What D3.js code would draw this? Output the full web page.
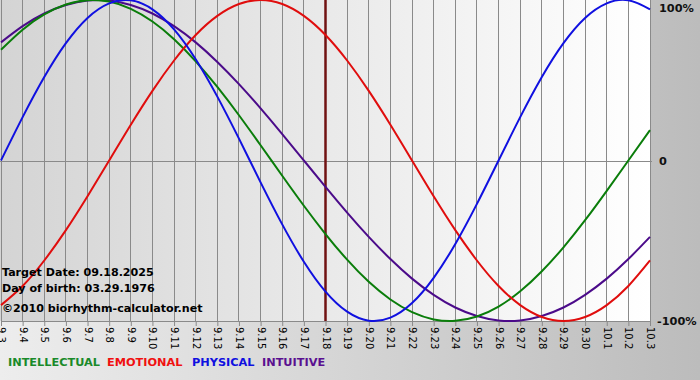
<!DOCTYPE html>
<html><head><meta charset="utf-8">
<script src="https://cdn.jsdelivr.net/npm/d3@7"></script>
<style>body{margin:0;padding:0;overflow:hidden;background:#fff}svg{display:block}</style>
</head><body>
<script>
// Day labels (Sep 3 .. Oct 3)
const days = ["9.3","9.4","9.5","9.6","9.7","9.8","9.9","9.10","9.11","9.12","9.13","9.14","9.15","9.16","9.17","9.18","9.19","9.20","9.21","9.22","9.23","9.24","9.25","9.26","9.27","9.28","9.29","9.30","10.1","10.2","10.3"];
const intellectual = [0.69,0.815,0.91,0.972,0.999,0.99,0.945,0.866,0.756,0.618,0.458,0.282,0.095,-0.095,-0.282,-0.458,-0.618,-0.756,-0.866,-0.945,-0.99,-0.999,-0.972,-0.91,-0.815,-0.69,-0.541,-0.372,-0.189,0,0.189];
const emotional = [-0.901,-0.782,-0.623,-0.434,-0.223,0,0.223,0.434,0.623,0.782,0.901,0.975,1,0.975,0.901,0.782,0.623,0.434,0.223,0,-0.223,-0.434,-0.623,-0.782,-0.901,-0.975,-1,-0.975,-0.901,-0.782,-0.623];
const physical = [0,0.27,0.52,0.731,0.888,0.979,0.998,0.942,0.817,0.631,0.398,0.136,-0.136,-0.398,-0.631,-0.817,-0.942,-0.998,-0.979,-0.888,-0.731,-0.52,-0.27,0,0.27,0.52,0.731,0.888,0.979,0.998,0.942];
const intuitive = [0.736,0.837,0.916,0.969,0.997,0.997,0.969,0.916,0.837,0.736,0.614,0.476,0.325,0.165,0,-0.165,-0.325,-0.476,-0.614,-0.736,-0.837,-0.916,-0.969,-0.997,-0.997,-0.969,-0.916,-0.837,-0.736,-0.614,-0.476];
const seriesNames = ["INTELLECTUAL","EMOTIONAL","PHYSICAL","INTUITIVE"];
const lineColors = ["#0a7d0a","#e00d0d","#1010e0","#4b0b8a"];
const legendColors = ["#1a8a2a","#f01010","#1010e0","#5a1090"];
const yTickVals = [1,0,-1];
const yTickLabels = ["100%","0","-100%"];
const targetDay = "9.18";
const infoLines = ["Target Date: 09.18.2025","Day of birth: 03.29.1976","\u00A92010 biorhythm-calculator.net"];

const W=700,H=380;
const svg=d3.select("body").append("svg").attr("width",W).attr("height",H);
const defs=svg.append("defs");
const g1=defs.append("linearGradient").attr("id","bg").attr("x1","0").attr("x2","1").attr("y1","0").attr("y2","0");
g1.append("stop").attr("offset","0").attr("stop-color","#ededed");
g1.append("stop").attr("offset","1").attr("stop-color","#bcbcbc");
const g2=defs.append("linearGradient").attr("id","plotbg").attr("x1","0").attr("x2","1").attr("y1","0").attr("y2","0");
g2.append("stop").attr("offset","0").attr("stop-color","#d4d4d4");
g2.append("stop").attr("offset","1").attr("stop-color","#ffffff");

svg.append("rect").attr("width",W).attr("height",H).attr("fill","url(#bg)");

const x=d3.scalePoint().domain(days).range([1,650]);
const y=d3.scaleLinear().domain([-1,1]).range([321,0]);

svg.append("rect").attr("x",0).attr("y",0).attr("width",650).attr("height",321).attr("fill","url(#plotbg)");

// vertical gridlines
svg.append("g").selectAll("line").data(days).join("line")
  .attr("x1",d=>x(d)).attr("x2",d=>x(d)).attr("y1",0).attr("y2",321)
  .attr("stroke","#8a8a8a").attr("stroke-width",1).attr("shape-rendering","crispEdges");
// zero line
svg.append("line").attr("x1",0).attr("x2",652).attr("y1",Math.round(y(0))).attr("y2",Math.round(y(0)))
  .attr("stroke","#8a8a8a").attr("shape-rendering","crispEdges");

// x axis
const xa=svg.append("g").attr("transform","translate(0,321)")
  .call(d3.axisBottom(x).tickSize(5).tickSizeOuter(0));
xa.select(".domain").attr("stroke","#8a8a8a");
xa.selectAll(".tick line").attr("stroke","#8a8a8a");
xa.selectAll("text").attr("transform","rotate(90)").attr("x",6).attr("y",0).attr("dy","0.35em")
  .attr("text-anchor","start").attr("font-family","DejaVu Sans, Verdana, sans-serif").attr("font-size",10).attr("fill","#000");

// y labels (right)
svg.append("g").selectAll("text").data(yTickVals).join("text")
  .attr("x",(d,i)=> i===2?657:659).attr("y",d=>Math.min(Math.max(y(d),8),322)).attr("dy","0.38em")
  .attr("font-family","DejaVu Sans, Verdana, sans-serif").attr("font-weight","bold").attr("font-size",11.3)
  .attr("fill","#111").text((d,i)=>yTickLabels[i]);

// target line
svg.append("line").attr("x1",x(targetDay)).attr("x2",x(targetDay)).attr("y1",0).attr("y2",321)
  .attr("stroke","#701212").attr("stroke-width",2.5);

// curves
const line=d3.line().x((d,i)=>x(days[i])).y(d=>y(d)).curve(d3.curveNatural);
const allSeries=[intuitive,intellectual,emotional,physical];
const allColors=[lineColors[3],lineColors[0],lineColors[1],lineColors[2]];
svg.append("g").selectAll("path").data(allSeries).join("path")
  .attr("d",line).attr("fill","none").attr("stroke",(d,i)=>allColors[i]).attr("stroke-width",2);

// info text
svg.append("g").selectAll("text").data(infoLines).join("text")
  .attr("x",2).attr("y",(d,i)=>[276,292,312][i])
  .attr("font-family","DejaVu Sans, Verdana, sans-serif").attr("font-weight","bold").attr("font-size",11.1)
  .attr("fill","#000").text(d=>d);

// legend
const legX=[8,107,192,262];
svg.append("g").selectAll("text").data(seriesNames).join("text")
  .attr("x",(d,i)=>legX[i]).attr("y",366)
  .attr("font-family","DejaVu Sans, Verdana, sans-serif").attr("font-weight","bold").attr("font-size",11.3)
  .attr("fill",(d,i)=>legendColors[i]).text(d=>d);
</script>
</body></html>
